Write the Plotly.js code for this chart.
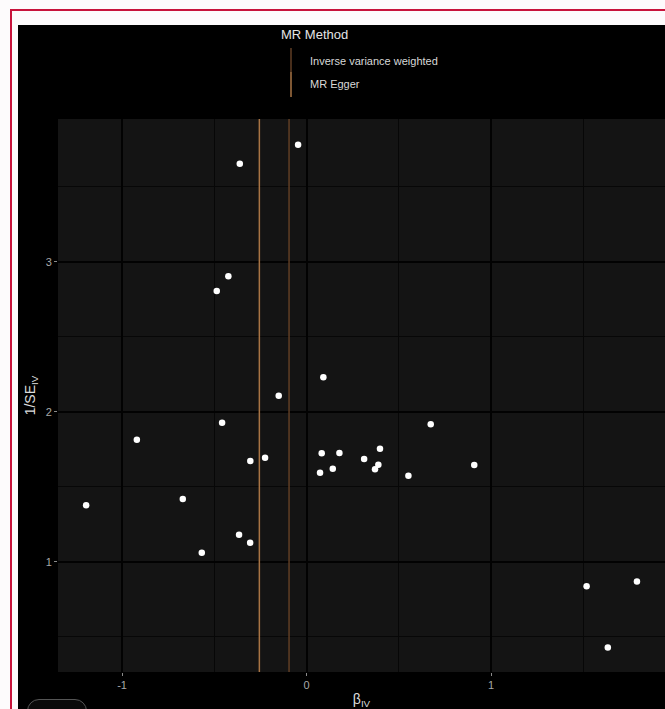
<!DOCTYPE html>
<html>
<head>
<meta charset="utf-8">
<script src="https://cdn.plot.ly/plotly-3.0.1.min.js"></script>
<style>
  html, body { margin: 0; padding: 0; width: 665px; height: 709px; overflow: hidden; background: #fdfbfc; }
  #frame { position: absolute; left: 10px; top: 9px; width: 700px; height: 760px;
           border-left: 2px solid #c8143c; border-top: 2px solid #c8143c; box-sizing: border-box; }
  #chart { position: absolute; left: 18px; top: 25px; width: 647px; height: 684px; background: #000; }
  #btn { position: absolute; left: 27px; top: 699px; width: 60px; height: 30px; border: 1.5px solid #555;
         border-radius: 12px; background: #0a0a0a; box-sizing: border-box; }
</style>
</head>
<body>
<div id="frame"></div>
<div id="chart"></div>
<div id="btn"></div>
<script>
// ---- data ----
const beta_iv = [-1.195, -0.920, -0.671, -0.568, -0.487, -0.424, -0.458, -0.362, -0.366, -0.306,
                 -0.305, -0.225, -0.151, -0.046, 0.091, 0.073, 0.082, 0.142, 0.178, 0.312,
                 0.371, 0.389, 0.398, 0.552, 0.673, 0.909, 1.518, 1.791, 1.633];
const inv_se_iv = [1.376, 1.813, 1.418, 1.060, 2.805, 2.903, 1.927, 3.653, 1.180, 1.127,
                   1.671, 1.693, 2.107, 3.780, 2.229, 1.593, 1.723, 1.620, 1.725, 1.685,
                   1.616, 1.647, 1.753, 1.573, 1.916, 1.645, 0.836, 0.869, 0.429];
const method_names = ["Inverse variance weighted", "MR Egger"];
const method_estimates = [-0.095, -0.256];
const method_colors = ["#603e24", "#a87444"];
const x_ticks = [-1, 0, 1];
const y_ticks = [1, 2, 3];

// ---- layout helpers (page pixel -> paper coords of plot area) ----
const OFFX = 18, OFFY = 25;
const PL = 58, PR = 665, PT = 119, PB = 672;
const px = v => (v - PL) / (PR - PL);
const py = v => (PB - v) / (PB - PT);

const shapes = [];
method_estimates.forEach((est, i) => {
  shapes.push({type: 'line', xref: 'x', yref: 'paper', x0: est, x1: est, y0: 0, y1: 1,
               line: {color: method_colors[i], width: 1.5}, layer: 'above'});
});
// legend keys (vertical lines, ggplot style)
shapes.push({type: 'line', xref: 'paper', yref: 'paper', x0: px(291), x1: px(291), y0: py(48), y1: py(72),
             line: {color: method_colors[0], width: 1.5}});
shapes.push({type: 'line', xref: 'paper', yref: 'paper', x0: px(291), x1: px(291), y0: py(72), y1: py(97),
             line: {color: method_colors[1], width: 1.5}});

const annotations = [
  {text: 'MR Method', xref: 'paper', yref: 'paper', x: px(279), y: py(34), xanchor: 'left', yanchor: 'middle',
   showarrow: false, font: {family: 'Liberation Sans, Arial, sans-serif', size: 13, color: '#e4e4e4'}},
  {text: method_names[0], xref: 'paper', yref: 'paper', x: px(308), y: py(61), xanchor: 'left', yanchor: 'middle',
   showarrow: false, font: {family: 'Liberation Sans, Arial, sans-serif', size: 11, color: '#d8d8d8'}},
  {text: method_names[1], xref: 'paper', yref: 'paper', x: px(308), y: py(84), xanchor: 'left', yanchor: 'middle',
   showarrow: false, font: {family: 'Liberation Sans, Arial, sans-serif', size: 11, color: '#d8d8d8'}}
];

const trace = {
  type: 'scatter', mode: 'markers', x: beta_iv, y: inv_se_iv,
  marker: {color: '#ffffff', size: 6.5, line: {width: 0}},
  showlegend: false, hoverinfo: 'x+y'
};

const axisFont = {family: 'Liberation Sans, Arial, sans-serif', size: 11, color: '#a8a8a8'};
const layout = {
  width: 647, height: 684,
  margin: {l: PL - OFFX, r: 0, t: PT - OFFY, b: (OFFY + 684) - PB, pad: 0},
  paper_bgcolor: '#000000', plot_bgcolor: '#141414',
  showlegend: false,
  xaxis: {
    range: [-1.3475, 1.943], tickvals: x_ticks, ticktext: x_ticks.map(String),
    ticks: 'outside', ticklen: 3, tickwidth: 1, tickcolor: '#8a8a8a',
    showgrid: true, gridcolor: '#020202', gridwidth: 2,
    minor: {dtick: 0.5, tick0: 0, showgrid: true, gridcolor: '#070707', gridwidth: 1, ticks: ''},
    zeroline: false, showline: false, tickfont: axisFont,
    title: {text: 'β<sub>IV</sub>', standoff: 6, font: {family: 'Liberation Sans, Arial, sans-serif', size: 14, color: '#dcdcdc'}}
  },
  yaxis: {
    range: [0.265, 3.951], tickvals: y_ticks, ticktext: y_ticks.map(String),
    ticks: 'outside', ticklen: 3, tickwidth: 1, tickcolor: '#8a8a8a',
    showgrid: true, gridcolor: '#020202', gridwidth: 2,
    minor: {dtick: 0.5, tick0: 0, showgrid: true, gridcolor: '#070707', gridwidth: 1, ticks: ''},
    zeroline: false, showline: false, tickfont: axisFont,
    title: {text: '1/SE<sub>IV</sub>', standoff: 6, font: {family: 'Liberation Sans, Arial, sans-serif', size: 14, color: '#dcdcdc'}}
  },
  shapes: shapes,
  annotations: annotations
};

Plotly.newPlot('chart', [trace], layout, {displayModeBar: false, staticPlot: true});
</script>
</body>
</html>
